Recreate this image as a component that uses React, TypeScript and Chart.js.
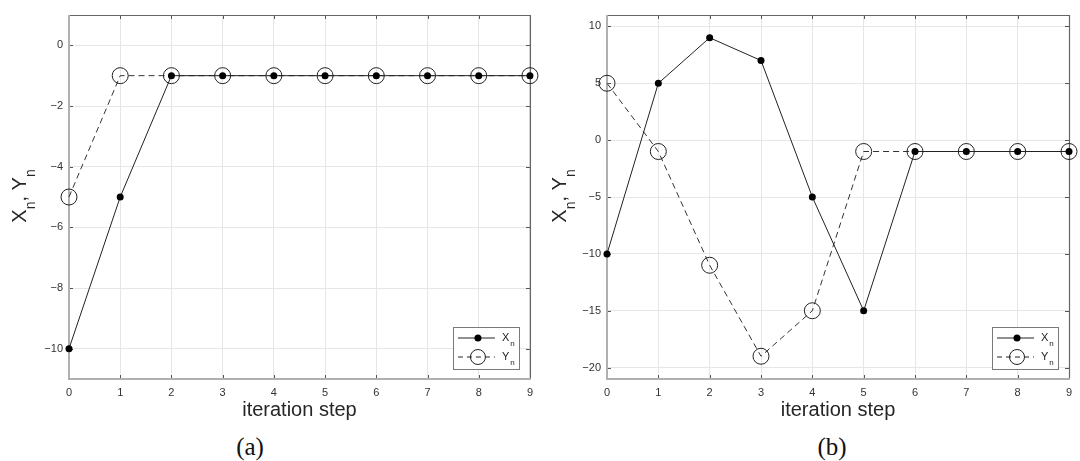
import React, { useEffect, useRef } from 'react';
import { Chart, registerables } from 'chart.js';
Chart.register(...registerables);

// ---- data ----
const STEPS = [0, 1, 2, 3, 4, 5, 6, 7, 8, 9];
const X_A = [-10, -5, -1, -1, -1, -1, -1, -1, -1, -1];
const Y_A = [-5, -1, -1, -1, -1, -1, -1, -1, -1, -1];
const X_B = [-10, 5, 9, 7, -5, -15, -1, -1, -1, -1];
const Y_B = [5, -1, -11, -19, -15, -1, -1, -1, -1, -1];
const Y_TICKS_A = [-10, -8, -6, -4, -2, 0];
const Y_TICKS_B = [-20, -15, -10, -5, 0, 5, 10];
const Y_RANGE_A = [-11, 1];
const Y_RANGE_B = [-21, 11];
const X_TITLE = 'iteration step';
const SERIES_NAMES = ['X', 'Y'];
const SUBSCRIPT = 'n';
const CAPTIONS = ['(a)', '(b)'];

const FONT = '"Liberation Sans", Arial, Helvetica, sans-serif';

function fmt(v: number): string {
  return v < 0 ? '\u2212' + Math.abs(v) : String(v);
}

type PanelCfg = {
  xs: number[];
  ys: number[];
  yRange: number[];
  yTicks: number[];
  axisW: number;
  padRight: number;
  left: number;
  caption: string;
  captionX: number;
};

const CANVAS_W = 540;
const CANVAS_H = 430;

function PanelChart({ cfg }: { cfg: PanelCfg }) {
  const ref = useRef<HTMLCanvasElement>(null);
  useEffect(() => {
    const frame = {
      id: 'frame',
      beforeDatasetsDraw(chart: any) {
        const { ctx, chartArea: a, scales } = chart;
        ctx.save();
        // ticks inside
        ctx.strokeStyle = '#555';
        ctx.lineWidth = 1;
        ctx.beginPath();
        cfg.yTicks.forEach((v) => {
          const py = Math.round(scales.y.getPixelForValue(v)) + 0.5;
          ctx.moveTo(a.left, py);
          ctx.lineTo(a.left + 4, py);
          ctx.moveTo(a.right, py);
          ctx.lineTo(a.right - 4, py);
        });
        STEPS.forEach((v) => {
          const px = Math.round(scales.x.getPixelForValue(v)) + 0.5;
          ctx.moveTo(px, a.bottom);
          ctx.lineTo(px, a.bottom - 4);
          ctx.moveTo(px, a.top);
          ctx.lineTo(px, a.top + 4);
        });
        ctx.stroke();
        // top & right: dark thin
        ctx.strokeStyle = '#666';
        ctx.lineWidth = 1.2;
        ctx.beginPath();
        ctx.moveTo(a.left, a.top + 0.5);
        ctx.lineTo(a.right + 0.5, a.top + 0.5);
        ctx.lineTo(a.right + 0.5, a.bottom);
        ctx.stroke();
        // left & bottom: light thick
        ctx.strokeStyle = '#b0b0b0';
        ctx.lineWidth = 2;
        ctx.beginPath();
        ctx.moveTo(a.left, a.top);
        ctx.lineTo(a.left, a.bottom);
        ctx.lineTo(a.right + 1, a.bottom);
        ctx.stroke();
        ctx.restore();
      },
      afterDraw(chart: any) {
        const { ctx, chartArea: a } = chart;
        ctx.save();
        // x title
        ctx.fillStyle = '#262626';
        ctx.font = `20px ${FONT}`;
        ctx.textAlign = 'center';
        ctx.textBaseline = 'middle';
        ctx.fillText(X_TITLE, (a.left + a.right) / 2, 410);

        // y title with subscripts (rotated)
        const parts: [string, boolean][] = [
          [SERIES_NAMES[0], false],
          [SUBSCRIPT, true],
          [', ', false],
          [SERIES_NAMES[1], false],
          [SUBSCRIPT, true],
        ];
        const mainF = `20px ${FONT}`;
        const subF = `14px ${FONT}`;
        let total = 0;
        parts.forEach(([t, s]) => {
          ctx.font = s ? subF : mainF;
          total += ctx.measureText(t).width;
        });
        ctx.translate(26, 196);
        ctx.rotate(-Math.PI / 2);
        ctx.textAlign = 'left';
        ctx.textBaseline = 'alphabetic';
        let cx = -total / 2;
        parts.forEach(([t, s]) => {
          ctx.font = s ? subF : mainF;
          ctx.fillText(t, cx, s ? 9 : 0);
          cx += ctx.measureText(t).width;
        });
        ctx.setTransform(1, 0, 0, 1, 0, 0);
        const dpr = chart.currentDevicePixelRatio || 1;
        ctx.scale(dpr, dpr);

        // legend box
        const bw = 66;
        const bh = 42;
        const bx = a.right - 11 - bw;
        const by = a.bottom - 10 - bh;
        ctx.fillStyle = '#fff';
        ctx.fillRect(bx, by, bw, bh);
        ctx.strokeStyle = '#7a7a7a';
        ctx.lineWidth = 1;
        ctx.strokeRect(Math.round(bx) + 0.5, Math.round(by) + 0.5, bw, bh);
        const rows = [by + 11, by + 30];
        // X row
        ctx.strokeStyle = '#222';
        ctx.setLineDash([]);
        ctx.beginPath();
        ctx.moveTo(bx + 5, rows[0]);
        ctx.lineTo(bx + 42, rows[0]);
        ctx.stroke();
        ctx.fillStyle = '#000';
        ctx.beginPath();
        ctx.arc(bx + 25, rows[0], 3.5, 0, Math.PI * 2);
        ctx.fill();
        // Y row
        ctx.setLineDash([5, 4]);
        ctx.beginPath();
        ctx.moveTo(bx + 5, rows[1]);
        ctx.lineTo(bx + 42, rows[1]);
        ctx.stroke();
        ctx.setLineDash([]);
        ctx.beginPath();
        ctx.arc(bx + 25, rows[1], 7.5, 0, Math.PI * 2);
        ctx.stroke();
        // legend texts
        ctx.fillStyle = '#222';
        ctx.textAlign = 'left';
        ctx.textBaseline = 'alphabetic';
        rows.forEach((ry, i) => {
          ctx.font = `11px ${FONT}`;
          ctx.fillText(SERIES_NAMES[i], bx + 49, ry + 3);
          const w = ctx.measureText(SERIES_NAMES[i]).width;
          ctx.font = `8px ${FONT}`;
          ctx.fillText(SUBSCRIPT, bx + 49 + w + 1, ry + 8);
        });
        ctx.restore();
      },
    };

    const chart = new Chart(ref.current!, {
      type: 'line',
      data: {
        datasets: [
          {
            label: SERIES_NAMES[0] + SUBSCRIPT,
            data: STEPS.map((s, i) => ({ x: s, y: cfg.xs[i] })),
            borderColor: '#222',
            borderWidth: 1,
            pointRadius: 3.5,
            pointBackgroundColor: '#000',
            pointBorderColor: '#000',
            pointBorderWidth: 0,
            clip: false as any,
            tension: 0,
          },
          {
            label: SERIES_NAMES[1] + SUBSCRIPT,
            data: STEPS.map((s, i) => ({ x: s, y: cfg.ys[i] })),
            borderColor: '#333',
            borderWidth: 1,
            borderDash: [6, 4],
            pointRadius: 8,
            pointBackgroundColor: 'rgba(0,0,0,0)',
            pointBorderColor: '#222',
            pointBorderWidth: 1,
            clip: false as any,
            tension: 0,
          },
        ],
      },
      options: {
        animation: false,
        responsive: true,
        maintainAspectRatio: false,
        layout: { padding: { left: 0, right: cfg.padRight, top: 15, bottom: 0 } },
        plugins: { legend: { display: false }, tooltip: { enabled: false } },
        events: [],
        scales: {
          x: {
            type: 'linear',
            min: STEPS[0],
            max: STEPS[STEPS.length - 1],
            afterBuildTicks: (s: any) => {
              s.ticks = STEPS.map((v) => ({ value: v }));
            },
            afterFit: (s: any) => {
              s.height = CANVAS_H - 379;
            },
            grid: { color: '#e6e6e6', lineWidth: 1, drawTicks: false },
            border: { display: false },
            ticks: {
              padding: 7,
              color: '#333',
              font: { family: FONT, size: 11 },
              callback: (v: any) => fmt(Number(v)),
              maxRotation: 0,
              autoSkip: false,
            },
          },
          y: {
            type: 'linear',
            min: cfg.yRange[0],
            max: cfg.yRange[1],
            afterBuildTicks: (s: any) => {
              s.ticks = cfg.yTicks.map((v) => ({ value: v }));
            },
            afterFit: (s: any) => {
              s.width = cfg.axisW;
            },
            grid: { color: '#e6e6e6', lineWidth: 1, drawTicks: false },
            border: { display: false },
            ticks: {
              padding: 6,
              color: '#333',
              font: { family: FONT, size: 11 },
              callback: (v: any) => fmt(Number(v)),
              autoSkip: false,
            },
          },
        },
      } as any,
      plugins: [frame],
    });
    return () => chart.destroy();
  }, []);

  return (
    <>
      <div
        style={{
          position: 'absolute',
          left: cfg.left,
          top: 0,
          width: CANVAS_W,
          height: CANVAS_H,
        }}
      >
        <canvas ref={ref} />
      </div>
      <div
        style={{
          position: 'absolute',
          left: cfg.captionX - 40,
          width: 80,
          top: 433,
          textAlign: 'center',
          fontFamily: '"Liberation Serif", "DejaVu Serif", serif',
          fontSize: 25,
          lineHeight: '28px',
          color: '#111',
        }}
      >
        {cfg.caption}
      </div>
    </>
  );
}

const PANELS: PanelCfg[] = [
  {
    xs: X_A,
    ys: Y_A,
    yRange: Y_RANGE_A,
    yTicks: Y_TICKS_A,
    axisW: 69,
    padRight: 9,
    left: 0,
    caption: CAPTIONS[0],
    captionX: 250,
  },
  {
    xs: X_B,
    ys: Y_B,
    yRange: Y_RANGE_B,
    yTicks: Y_TICKS_B,
    axisW: 67,
    padRight: 11,
    left: 540,
    caption: CAPTIONS[1],
    captionX: 832,
  },
];

export default function App() {
  return (
    <div
      style={{
        position: 'fixed',
        left: 0,
        top: 0,
        width: 1080,
        height: 461,
        background: '#fff',
        overflow: 'hidden',
      }}
    >
      {PANELS.map((p, i) => (
        <PanelChart key={i} cfg={p} />
      ))}
    </div>
  );
}
